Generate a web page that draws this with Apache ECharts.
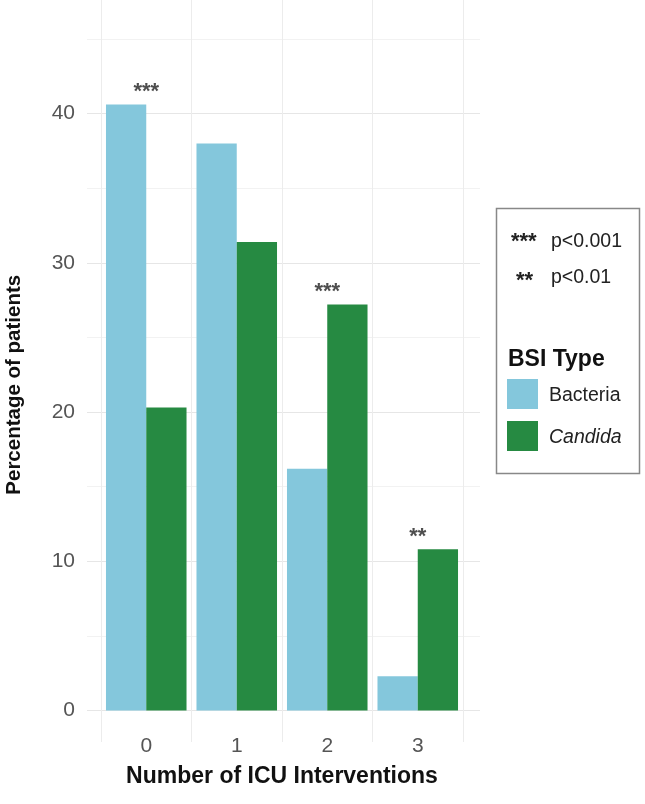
<!DOCTYPE html>
<html>
<head>
<meta charset="utf-8">
<script src="https://cdn.jsdelivr.net/npm/echarts@6/dist/echarts.min.js"></script>
<style>
    html, body { margin: 0; padding: 0; background: #fff; }
    #chart { width: 645px; height: 804px; }
</style>
</head>
<body>
<div id="chart"></div>
<script>
    var categories = ['0', '1', '2', '3'];
    var bacteria = [40.6, 38.0, 16.2, 2.3];
    var candida = [20.3, 31.4, 27.2, 10.8];
    var sigMarks = ['***', '', '***', '**'];
    var yTicks = [0, 10, 20, 30, 40];

    var FONT = '"Liberation Sans", Arial, sans-serif';

    // star labels sit just above the taller bar of each pair
    var starData = [];
    for (var i = 0; i < categories.length; i++) {
        if (sigMarks[i]) {
            starData.push({ value: [i, Math.max(bacteria[i], candida[i]) + 0.85], mark: sigMarks[i] });
        }
    }

    var chart = echarts.init(document.getElementById('chart'));
    chart.setOption({
        backgroundColor: '#fff',
        animation: false,
        grid: [
            // horizontal grid lines + y labels
            { left: 87, right: 165, top: 39, bottom: 93.5, outerBoundsMode: 'none' },
            // bars
            { left: 101, right: 182, top: 0, bottom: 62, outerBoundsMode: 'none' }
        ],
        xAxis: [
            { gridIndex: 0, type: 'value', show: false },
            {
                gridIndex: 1,
                type: 'category',
                data: categories,
                boundaryGap: true,
                axisLine: { show: false, onZero: false },
                axisTick: { show: false },
                axisLabel: { fontSize: 21, color: '#555', fontFamily: FONT, margin: -6 },
                splitLine: { show: true, lineStyle: { color: '#ECECEC', width: 1 } },
                name: 'Number of ICU Interventions',
                nameLocation: 'middle',
                nameGap: 23,
                nameTextStyle: { fontSize: 23, fontWeight: 'bold', color: '#111', fontFamily: FONT }
            }
        ],
        yAxis: [
            {
                gridIndex: 0,
                type: 'value',
                min: 0,
                max: 45,
                interval: 5,
                axisLine: { show: false },
                axisTick: { show: false },
                axisLabel: {
                    fontSize: 21, color: '#555', fontFamily: FONT, margin: 12,
                    formatter: function (v) { return yTicks.indexOf(v) >= 0 ? String(v) : ''; }
                },
                splitLine: { show: true, lineStyle: { color: ['#E6E6E6', '#F2F2F2'], width: 1 } },
                name: 'Percentage of patients',
                nameLocation: 'middle',
                nameGap: 62,
                nameTextStyle: { fontSize: 20.5, fontWeight: 'bold', color: '#111', fontFamily: FONT, padding: [0, 20, 0, 0] }
            },
            { gridIndex: 1, type: 'value', min: -2.11, max: 47.61, show: false, splitLine: { show: false } }
        ],
        legend: {
            data: ['Bacteria', 'Candida'],
            orient: 'vertical',
            left: 507,
            top: 379,
            padding: 0,
            itemWidth: 31,
            itemHeight: 30,
            itemGap: 12,
            icon: 'rect',
            selectedMode: false,
            formatter: function (name) { return name === 'Candida' ? '{it|Candida}' : name; },
            textStyle: {
                fontSize: 19.5, color: '#222', fontFamily: FONT, padding: [4, 0, 0, 6],
                rich: { it: { fontStyle: 'italic', fontSize: 19.5, color: '#222', fontFamily: FONT } }
            }
        },
        graphic: [
            { type: 'rect', left: 494, top: 206, shape: { width: 143, height: 265 },
              style: { fill: 'none', stroke: '#888', lineWidth: 1.5 } },
            { type: 'text', left: 511, top: 231, style: { text: '***', fontSize: 22, fontWeight: 'bold', fill: '#222', fontFamily: FONT } },
            { type: 'text', left: 551, top: 232, style: { text: 'p<0.001', fontSize: 19.5, fill: '#222', fontFamily: FONT } },
            { type: 'text', left: 516, top: 270, style: { text: '**', fontSize: 22, fontWeight: 'bold', fill: '#222', fontFamily: FONT } },
            { type: 'text', left: 551, top: 268, style: { text: 'p<0.01', fontSize: 19.5, fill: '#222', fontFamily: FONT } },
            { type: 'text', left: 508, top: 348, style: { text: 'BSI Type', fontSize: 23, fontWeight: 'bold', fill: '#111', fontFamily: FONT } }
        ],
        series: [
            {
                name: 'Bacteria',
                type: 'bar',
                xAxisIndex: 1,
                yAxisIndex: 1,
                barGap: '0%',
                barCategoryGap: '11%',
                itemStyle: { color: '#84C7DC' },
                data: bacteria
            },
            {
                name: 'Candida',
                type: 'bar',
                xAxisIndex: 1,
                yAxisIndex: 1,
                barGap: '0%',
                barCategoryGap: '11%',
                itemStyle: { color: '#268A42' },
                data: candida
            },
            {
                type: 'scatter',
                xAxisIndex: 1,
                yAxisIndex: 1,
                symbolSize: 0,
                silent: true,
                label: {
                    show: true,
                    position: 'inside',
                    fontSize: 22,
                    fontWeight: 'bold',
                    color: '#222',
                    fontFamily: FONT,
                    formatter: function (p) { return p.data.mark; }
                },
                data: starData
            }
        ]
    });
</script>
</body>
</html>
